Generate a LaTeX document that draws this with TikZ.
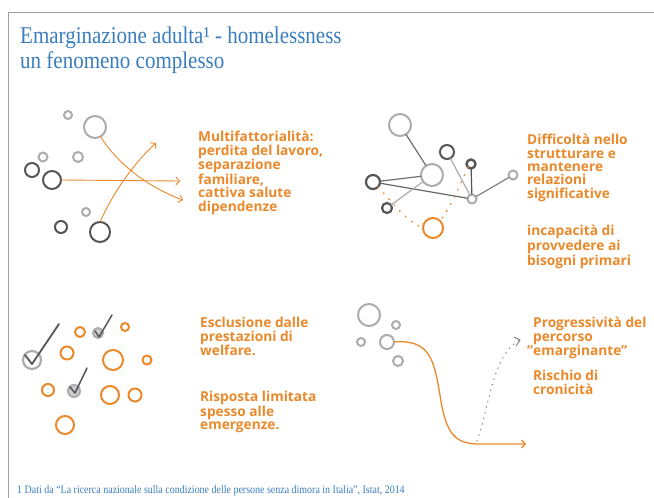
\documentclass[tikz,border=0pt]{standalone}
\usepackage{fontspec}
\setmainfont{Liberation Serif}
\newfontfamily\titlefont{Liberation Serif}[FakeStretch=0.875]
\newfontfamily\bodyfont{Open Sans}
\usetikzlibrary{arrows.meta}
\definecolor{tblue}{RGB}{58,125,190}
\definecolor{org}{RGB}{233,137,43}
\definecolor{dgray}{RGB}{85,85,85}
\definecolor{lgray}{RGB}{172,172,175}
\definecolor{fgray}{RGB}{160,160,160}
\begin{document}
\begin{tikzpicture}[x=1pt,y=-1pt,
 ring/.style={circle,draw,inner sep=0pt,outer sep=0pt,line width=2pt,minimum size=#1},
 lring/.style={ring=#1,draw=lgray},
 dring/.style={ring=#1,draw=dgray},
 oring/.style={ring=#1,draw=org},
 ckring/.style={ring=#1,draw=lgray,fill=lgray!60},
 txt/.style={anchor=north west,align=left,font=\bodyfont\bfseries\fontsize{13.7}{13.4}\selectfont,text=org,inner sep=0pt},
 arr/.style={draw=org,line width=0.9pt,-{Straight Barb[length=3.5pt,width=8pt]}},
 link/.style={line width=1.2pt},
 dots/.style={draw=org,line width=1.3pt,dash pattern=on 1pt off 7pt,line cap=round},
 check/.style={draw=dgray,line width=1.8pt,line cap=round,line join=round},
 ]
\useasboundingbox (0,0) rectangle (654,498);
\draw[fgray,line width=1pt] (8,498) -- (8,12) -- (654,12);

% title
\node[anchor=base west,inner sep=0pt,text=tblue,font=\titlefont\fontsize{24}{24}\selectfont] (t1) at (20,43) {Emarginazione adulta¹ - homelessness};
\node[anchor=base west,inner sep=0pt,text=tblue,font=\titlefont\fontsize{24}{24}\selectfont] (t2) at (20,68) {un fenomeno complesso};

% panel 1
\node[lring=8pt] (p1a) at (68,115) {};
\node[lring=22pt] (p1b) at (95,127) {};
\node[lring=9pt] (p1c) at (43,157) {};
\node[lring=10pt] (p1d) at (78,157) {};
\node[dring=14pt] (p1e) at (32,170) {};
\node[dring=18pt] (p1f) at (52,180) {};
\node[lring=8pt] (p1g) at (86,212) {};
\node[dring=12pt] (p1h) at (61,227) {};
\node[dring=20pt] (p1i) at (100,232) {};
\coordinate (e1) at (183,200);
\coordinate (e2) at (180,181);
\coordinate (e3) at (156,143);
\draw[arr] (p1b.-60) .. controls (118,165) and (150,188) .. (e1);
\draw[arr] (p1f.east) -- (e2);
\draw[arr] (p1i.north) .. controls (112,195) and (132,165) .. (e3);
\node[txt] (x1) at (198,131) {Multifattorialità:\\perdita del lavoro,\\separazione\\familiare,\\cattiva salute\\dipendenze};

% panel 2
\node[lring=22pt] (q1) at (400,125) {};
\node[dring=14pt] (q2) at (447,152) {};
\node[dring=9pt,line width=2.4pt] (q3) at (471,164) {};
\node[lring=22pt] (q4) at (432,175) {};
\node[lring=9pt] (q5) at (513,175) {};
\node[dring=14pt,line width=2.2pt] (q6) at (373,182) {};
\node[lring=9pt] (q7) at (472,199) {};
\node[dring=10pt,line width=2.2pt] (q8) at (387,208) {};
\node[oring=20pt] (q9) at (433,228) {};
\draw[link,dgray!85] (q1) -- (q4);
\draw[link,dgray!85] (q6) -- (q4);
\draw[link,dgray!90] (q6) -- (q7);
\draw[link,lgray] (q2) -- (q7);
\draw[link,dgray] (q3) -- (q7);
\draw[link,dgray!75] (q7) -- (q5);
\draw[link,lgray] (q4) -- (q8);
\draw[dots] (q6.south east) .. controls (395,205) and (405,220) .. (q9.west);
\draw[dots] (q3.south west) .. controls (460,185) and (452,205) .. (q9.north east);
\node[txt] (x2) at (527,134) {Difficoltà nello\\strutturare e\\mantenere\\relazioni\\significative};
\node[txt] (x3) at (527,225) {incapacità di\\provvedere ai\\bisogni primari};

% panel 3
\node[ring=18pt,draw=lgray,fill=white,line width=2.2pt] (r1) at (32,360) {};
\draw[check] (25,355) -- (32,364) -- (59,324);
\node[oring=10pt] (r2) at (80,332) {};
\node[ckring=10pt] (r3) at (98,333) {};
\draw[check,line width=1.5pt] (95,331) -- (99,337) -- (112,315);
\node[oring=8pt] (r4) at (125,327) {};
\node[oring=13pt] (r5) at (67,353) {};
\node[oring=20pt] (r6) at (113,360) {};
\node[oring=9pt] (r7) at (147,360) {};
\node[oring=12pt] (r8) at (48,390) {};
\node[ckring=12pt] (r9) at (74,391) {};
\draw[check,line width=1.5pt] (70,387) -- (75,393) -- (87,368);
\node[oring=18pt] (r10) at (110,395) {};
\node[oring=13pt] (r11) at (135,395) {};
\node[oring=18pt] (r12) at (65,425) {};
\node[txt] (x4) at (200,317) {Esclusione dalle\\prestazioni di\\welfare.};
\node[txt] (x5) at (200,391) {Risposta limitata\\spesso alle\\emergenze.};

% panel 4
\node[lring=22pt] (s1) at (369,315) {};
\node[lring=8pt] (s2) at (396,325) {};
\node[lring=8pt] (s3) at (361,342) {};
\node[lring=14pt] (s4) at (387,342) {};
\node[lring=10pt] (s5) at (398,361) {};
\coordinate (f1) at (526,444);
\coordinate (f2) at (477,441);
\coordinate (f3) at (520,340);
\draw[arr,line width=1.3pt] (s4.east) .. controls (430,339) and (434,360) .. (440,395) .. controls (446,436) and (456,444) .. (480,444) -- (f1);
\draw[draw=gray,line width=1pt,dash pattern=on 0.8pt off 5pt,line cap=round] (f2) .. controls (490,405) and (492,355) .. (f3);
\draw[draw=gray,line width=0.9pt] (514,337) -- (520,340) -- (516,346);
\node[txt] (x6) at (533,317) {Progressività del\\percorso\\\llap{”}emarginante”};
\node[txt] (x7) at (533,370) {Rischio di\\cronicità};

% footnote
\node[anchor=base west,inner sep=0pt,text=tblue,font=\titlefont\fontsize{11.4}{11.4}\selectfont] (fn) at (17,493) {1 Dati da “La ricerca nazionale sulla condizione delle persone senza dimora in Italia”, Istat, 2014};
\end{tikzpicture}
\end{document}
